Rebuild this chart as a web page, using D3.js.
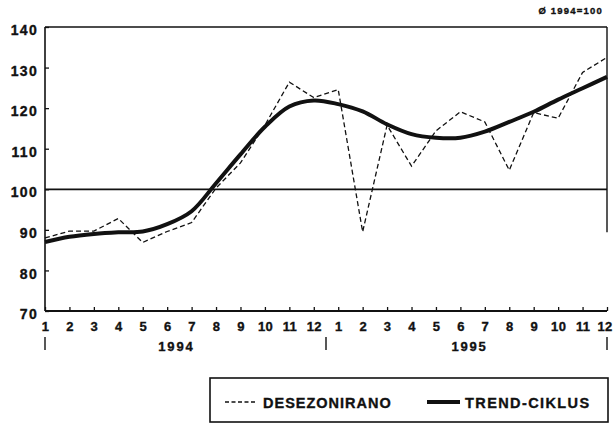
<!DOCTYPE html>
<html>
<head>
<meta charset="utf-8">
<script src="https://cdn.jsdelivr.net/npm/d3@7"></script>
<style>
  body { margin: 0; background: #fff; }
  svg { display: block; }
  text { font-family: "Liberation Sans", Arial, sans-serif; font-weight: bold; fill: #111; stroke: #111; stroke-width: 0.35px; }
</style>
</head>
<body>
<script>
const WIDTH = 613;
const HEIGHT = 425;
const MARGIN = { top: 27, right: 6, bottom: 114, left: 45 };

// data
const months = ["1", "2", "3", "4", "5", "6", "7", "8", "9", "10", "11", "12"];
const years = ["1994", "1995"];
const desezonirano = [
  88.0, 89.7, 89.7, 92.8, 86.9, 89.6, 91.8, 100.3, 106.5, 115.8, 126.4, 122.6,
  124.6, 89.5, 115.8, 105.7, 114.4, 119.1, 116.6, 104.7, 118.9, 117.5, 128.8, 132.5
];
const trendCiklus = [
  87.0, 88.3, 89.0, 89.4, 89.6, 91.4, 94.6, 101.5, 108.6, 115.4, 120.4, 121.9,
  121.0, 119.2, 116.0, 113.6, 112.7, 112.7, 114.2, 116.6, 119.1, 122.1, 124.9, 127.7
];
const yTicks = [70, 80, 90, 100, 110, 120, 130, 140];
const baseIndex = 100;
const legendLabels = ["DESEZONIRANO", "TREND-CIKLUS"];
const note = "Ø 1994=100";

const keys = years.flatMap(y => months.map(m => `${y}-${m}`));

const svg = d3.select("body").append("svg")
  .attr("width", WIDTH)
  .attr("height", HEIGHT);

const xScale = d3.scalePoint()
  .domain(keys)
  .range([MARGIN.left, WIDTH - MARGIN.right]);

const yScale = d3.scaleLinear()
  .domain([70, 140])
  .range([HEIGHT - MARGIN.bottom, MARGIN.top]);

const x0 = xScale.range()[0];
const x1 = xScale.range()[1];
const yBottom = yScale(70);
const lastKey = keys[keys.length - 1];

// y axis, ticks pointing inside
svg.append("g")
  .attr("transform", `translate(${x0},0)`)
  .call(d3.axisLeft(yScale).tickValues(yTicks).tickSizeInner(-4).tickSizeOuter(0).tickPadding(7))
  .call(g => g.select(".domain").remove())
  .call(g => g.selectAll("line").attr("stroke", "#111").attr("stroke-width", 1.3))
  .call(g => g.selectAll("text")
    .style("font-size", "14px")
    .attr("letter-spacing", 1.3)
    .attr("dy", "0.55em")
    .attr("fill", "#111"));

// x axis, month ticks pointing up
svg.append("g")
  .attr("transform", `translate(0,${yBottom})`)
  .call(d3.axisBottom(xScale).tickSizeInner(-4).tickSizeOuter(0).tickPadding(11)
    .tickFormat(k => k.split("-")[1]))
  .call(g => g.select(".domain").remove())
  .call(g => g.selectAll("line").attr("stroke", "#111").attr("stroke-width", 1.3))
  .call(g => g.selectAll("text")
    .style("font-size", "13px")
    .attr("letter-spacing", 0.3)
    .attr("fill", "#111"))
  // last label sits against the right edge
  .call(g => g.selectAll(".tick").filter(k => k === lastKey).select("text")
    .attr("text-anchor", "end").attr("x", WIDTH - x1 - 1));

// frame
const frame = svg.append("g").attr("stroke", "#111").attr("fill", "none");
frame.append("line").attr("x1", x0).attr("x2", x1).attr("y1", yScale(140)).attr("y2", yScale(140)).attr("stroke-width", 1.6);
frame.append("line").attr("x1", x0).attr("x2", x1).attr("y1", yBottom).attr("y2", yBottom).attr("stroke-width", 1.8);
frame.append("line").attr("x1", x0).attr("x2", x0).attr("y1", yScale(140)).attr("y2", yBottom).attr("stroke-width", 1.6);
frame.append("line").attr("x1", x1).attr("x2", x1).attr("y1", yScale(140)).attr("y2", yScale(89.4)).attr("stroke-width", 1.4);
frame.append("line").attr("x1", x0).attr("x2", x1).attr("y1", yScale(baseIndex)).attr("y2", yScale(baseIndex)).attr("stroke-width", 1.8);

// year separators and labels
const step = xScale.step();
const seps = [x0, xScale(`${years[0]}-12`) + step / 2, x1];
svg.append("g").selectAll("line").data(seps).join("line")
  .attr("x1", d => d).attr("x2", d => d)
  .attr("y1", yBottom + 26).attr("y2", yBottom + 39)
  .attr("stroke", "#111").attr("stroke-width", 1.4);

svg.append("g").selectAll("text").data(years).join("text")
  .attr("x", y => (xScale(`${y}-6`) + xScale(`${y}-7`)) / 2 - 3)
  .attr("y", yBottom + 40)
  .attr("text-anchor", "middle")
  .attr("letter-spacing", 1.8)
  .style("font-size", "13px")
  .text(d => d);

// series
const line = d3.line()
  .x((d, i) => xScale(keys[i]))
  .y(d => yScale(d));

svg.append("path")
  .datum(desezonirano)
  .attr("fill", "none")
  .attr("stroke", "#111")
  .attr("stroke-width", 1.3)
  .attr("stroke-dasharray", "5,3")
  .attr("d", line);

svg.append("path")
  .datum(trendCiklus)
  .attr("fill", "none")
  .attr("stroke", "#111")
  .attr("stroke-width", 4)
  .attr("stroke-linejoin", "round")
  .attr("d", line.curve(d3.curveCatmullRom.alpha(0.5)));

// note
svg.append("text")
  .attr("x", x1 - 4)
  .attr("y", 14)
  .attr("text-anchor", "end")
  .attr("letter-spacing", 1.2)
  .style("font-size", "9.5px")
  .text(note);

// legend
const legend = svg.append("g").attr("transform", "translate(210,378)");
legend.append("rect")
  .attr("width", 398).attr("height", 44)
  .attr("fill", "none").attr("stroke", "#111").attr("stroke-width", 1.6);
legend.append("line")
  .attr("x1", 15).attr("x2", 45).attr("y1", 24).attr("y2", 24)
  .attr("stroke", "#111").attr("stroke-width", 1.3).attr("stroke-dasharray", "4,2.5");
legend.append("text")
  .attr("x", 53).attr("y", 30)
  .attr("letter-spacing", 1.0)
  .style("font-size", "14.5px")
  .text(legendLabels[0]);
legend.append("line")
  .attr("x1", 217).attr("x2", 250).attr("y1", 24).attr("y2", 24)
  .attr("stroke", "#111").attr("stroke-width", 4);
legend.append("text")
  .attr("x", 255).attr("y", 30)
  .attr("letter-spacing", 1.4)
  .style("font-size", "14.5px")
  .text(legendLabels[1]);
</script>
</body>
</html>
